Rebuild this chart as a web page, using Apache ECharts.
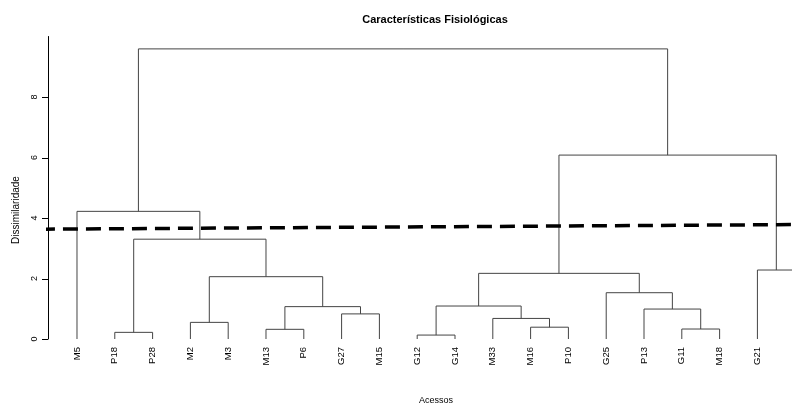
<!DOCTYPE html>
<html><head><meta charset="utf-8">
<script src="https://cdn.jsdelivr.net/npm/echarts@6/dist/echarts.min.js"></script>
<style>html,body{margin:0;padding:0;background:#fff}#c{width:792px;height:405px}</style>
</head><body><div id="c"></div>
<script>
// Leaves in dendrogram order
const leafLabels = ['M5','P18','P28','M2','M3','M13','P6','G27','M15','G12','G14','M33','M16','P10','G25','P13','G11','M18','G21','P22'];
// hclust-style merge matrix: negative = leaf (1-based), positive = earlier merge (1-based)
const mergeLeft   = [-2, -4, -6, -8, 3, 2, 1, -1, -10, -13, -12, 9, -17, -16, -15, 12, -19, 16, 8];
const mergeRight  = [-3, -5, -7, -9, 4, 5, 6, 7, -11, -14, 10, 11, -18, 13, 14, 15, -20, 17, 18];
const mergeHeight = [0.22, 0.55, 0.32, 0.83, 1.07, 2.06, 3.30, 4.22, 0.13, 0.39, 0.68, 1.09, 0.33, 0.99, 1.53, 2.17, 2.28, 6.08, 9.59];
// Cut line (slightly sloped dashed line)
const cutX = [-0.98, 20];
const cutY = [3.63, 3.79];
const yTickValues = [0, 2, 4, 6, 8];

const nodes = [];
function pos(id) { return id < 0 ? { x: -id - 1, h: 0 } : nodes[id - 1]; }
const segData = [];
for (let i = 0; i < mergeHeight.length; i++) {
  const a = pos(mergeLeft[i]), b = pos(mergeRight[i]);
  nodes.push({ x: (a.x + b.x) / 2, h: mergeHeight[i] });
  segData.push([a.x, a.h, b.x, b.h, mergeHeight[i]]);
}

const X_MIN = -0.767, X_MAX = 18.915;
const FONT = '"Liberation Sans", Arial, Helvetica, sans-serif';
const chart = echarts.init(document.getElementById('c'), null, { renderer: 'canvas' });
chart.setOption({
  animation: false,
  backgroundColor: '#fff',
  grid: { left: 48, right: 0, top: 36.5, bottom: 66, containLabel: false },
  xAxis: { type: 'value', min: X_MIN, max: X_MAX, show: false },
  yAxis: {
    type: 'value', min: 0, max: 10, interval: 2,
    axisLine: { show: true, onZero: false, lineStyle: { color: '#000', width: 1 } },
    axisTick: { show: false },
    splitLine: { show: false },
    axisLabel: { rotate: 90, fontSize: 9, color: '#000', fontFamily: FONT, margin: 9,
      formatter: v => (yTickValues.indexOf(v) >= 0 ? String(v) : '') }
  },
  graphic: [
    { type: 'text', x: 435, y: 20, style: { text: 'Características Fisiológicas', font: 'bold 11px ' + FONT, fill: '#000', align: 'center', verticalAlign: 'middle', textAlign: 'center', textVerticalAlign: 'middle' } },
    { type: 'text', x: 16, y: 210, rotation: Math.PI / 2, style: { text: 'Dissimilaridade', font: '10px ' + FONT, fill: '#000', align: 'center', verticalAlign: 'middle', textAlign: 'center', textVerticalAlign: 'middle' } },
    { type: 'text', x: 436, y: 401, style: { text: 'Acessos', font: '9px ' + FONT, fill: '#000', align: 'center', verticalAlign: 'middle', textAlign: 'center', textVerticalAlign: 'middle' } }
  ],
  series: [
    {
      // y-axis tick marks (outward, R style)
      type: 'custom', clip: false, silent: true,
      data: yTickValues.map(v => [X_MIN, v]),
      encode: { x: 0, y: 1 },
      renderItem: function (params, api) {
        const p = api.coord([X_MIN, yTickValues[params.dataIndex]]);
        const y = Math.round(p[1]) + 0.5;
        return { type: 'polyline', shape: { points: [[p[0] - 6, y], [p[0], y]] }, style: { stroke: '#000', lineWidth: 1, fill: null } };
      }
    },
    {
      type: 'custom', clip: false, silent: true,
      data: segData,
      encode: { x: [0, 2], y: [1, 3, 4] },
      renderItem: function (params, api) {
        const a0 = api.coord([api.value(0), api.value(1)]);
        const a1 = api.coord([api.value(0), api.value(4)]);
        const b1 = api.coord([api.value(2), api.value(4)]);
        const b0 = api.coord([api.value(2), api.value(3)]);
        return { type: 'polyline', shape: { points: [a0, a1, b1, b0] }, style: { stroke: '#444', lineWidth: 1, fill: null } };
      }
    },
    {
      type: 'custom', clip: false, silent: true,
      data: leafLabels.map((l, i) => [i, 0]),
      encode: { x: 0, y: 1 },
      renderItem: function (params, api) {
        const p = api.coord([api.value(0), 0]);
        return { type: 'text', x: p[0], y: p[1] + 8, rotation: Math.PI / 2,
          style: { text: leafLabels[params.dataIndex], font: '9.5px ' + FONT, fill: '#000', align: 'right', verticalAlign: 'middle', textAlign: 'right', textVerticalAlign: 'middle' } };
      }
    },
    {
      type: 'line', clip: false, silent: true, symbol: 'none',
      data: cutX.map((x, i) => [x, cutY[i]]),
      lineStyle: { color: '#000', width: 3.5, type: [15, 8] }
    }
  ]
});
</script></body></html>
